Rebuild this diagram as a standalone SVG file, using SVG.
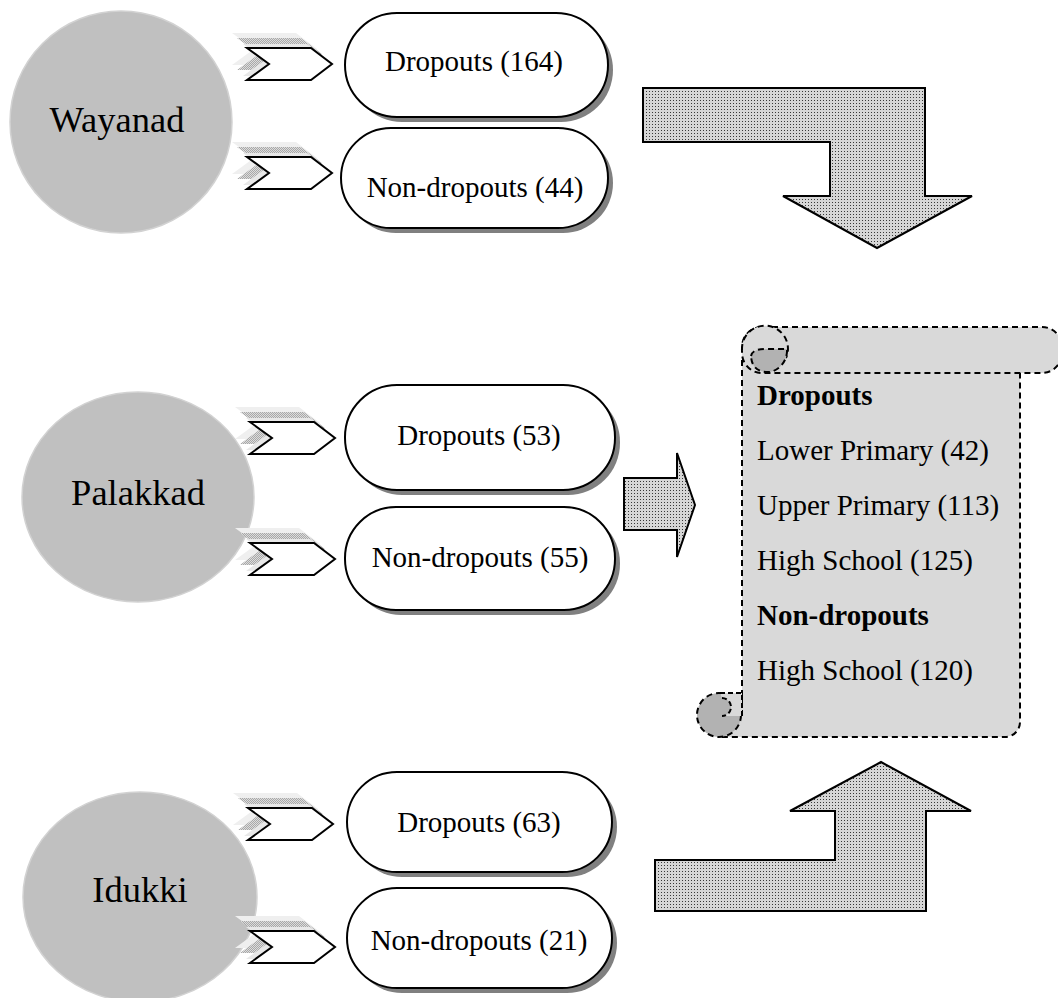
<svg xmlns="http://www.w3.org/2000/svg" width="1058" height="998" viewBox="0 0 1058 998">
  <style>
    .district { fill: #c0c0c0; stroke: #d2d2d2; stroke-width: 1.5; }
    .dname { font-family: "Liberation Serif", "Times New Roman", serif; font-size: 36.5px; fill: #000; text-anchor: middle; }
    .pill { fill: #fff; stroke: #000; stroke-width: 2; }
    .pill-shadow { fill: #808080; }
    .plabel { font-family: "Liberation Serif", "Times New Roman", serif; font-size: 29px; fill: #000; text-anchor: middle; }
    .chev { fill: #fff; stroke: #000; stroke-width: 2; stroke-linejoin: miter; }
    .chev-s1 { fill: #efefef; }
    .chev-s2 { fill: url(#dither); }
    .chev-s3 { fill: #e8e8e8; }
    .bigarrow { fill: url(#dots); stroke: #000; stroke-width: 2; stroke-linejoin: miter; }
    .scroll { fill: #d9d9d9; stroke: #000; stroke-width: 2; stroke-dasharray: 6 4; }
    .curl { fill: #b2b2b2; stroke: #000; stroke-width: 2; stroke-dasharray: 6 4; }
    .stext { font-family: "Liberation Serif", "Times New Roman", serif; font-size: 29px; fill: #000; }
    .bold { font-weight: bold; }
  </style>
  <defs>
    <!-- fine dot screen used by the block arrows -->
    <pattern id="dots" width="3" height="3" patternUnits="userSpaceOnUse">
      <rect width="3" height="3" fill="#d6d6d6"/>
      <rect x="1" y="1" width="1" height="1" fill="#383838"/>
    </pattern>
    <pattern id="dither" width="2" height="2" patternUnits="userSpaceOnUse">
      <rect width="2" height="2" fill="#dcdcdc"/>
      <rect width="1" height="1" fill="#a8a8a8"/>
      <rect x="1" y="1" width="1" height="1" fill="#a8a8a8"/>
    </pattern>
    <path id="chevShape" d="M0,0 L64,0 L85,16 L64,32 L0,32 L22,16 Z"/>
    <!-- chevron with a stepped soft shadow up and to the left -->
    <g id="chevron">
      <use href="#chevShape" class="chev-s1" transform="translate(-15,-15)"/>
      <use href="#chevShape" class="chev-s2" transform="translate(-10,-10)"/>
      <use href="#chevShape" class="chev-s3" transform="translate(-4,-4)"/>
      <use href="#chevShape" class="chev"/>
    </g>
  </defs>

  <rect width="1058" height="998" fill="#fff"/>

  <!-- District nodes -->
  <g id="wayanad">
    <ellipse class="district" cx="121" cy="122" rx="111" ry="111"/>
    <text class="dname" x="117" y="132">Wayanad</text>
  </g>
  <g id="palakkad">
    <ellipse class="district" cx="138" cy="497" rx="116" ry="105"/>
    <text class="dname" x="138" y="505">Palakkad</text>
  </g>
  <g id="idukki">
    <ellipse class="district" cx="140" cy="897" rx="117" ry="105"/>
    <text class="dname" x="140" y="902">Idukki</text>
  </g>

  <!-- Connectors: chevrons and block arrows -->
  <g id="connectors">
    <use href="#chevron" transform="translate(247,48)"/>
    <use href="#chevron" transform="translate(247,157)"/>
    <use href="#chevron" transform="translate(250,422)"/>
    <use href="#chevron" transform="translate(250,543)"/>
    <use href="#chevron" transform="translate(248,808)"/>
    <use href="#chevron" transform="translate(250,931)"/>

    <path class="bigarrow" d="M643,88 L925,88 L925,196 L972,196 L877,248 L783,196 L830,196 L830,142 L643,142 Z"/>
    <path class="bigarrow" d="M624,478 L677,478 L677,453 L695,505 L677,557 L677,530 L624,530 Z"/>
    <path class="bigarrow" d="M655,911 L655,860 L835,860 L835,811 L790,811 L881,762 L971,811 L926,811 L926,911 Z"/>
  </g>

  <!-- Outcome pills -->
  <g id="wayanad-dropouts">
    <rect class="pill-shadow" x="350" y="18" width="263" height="104" rx="52"/>
    <rect class="pill" x="345" y="13" width="263" height="104" rx="52"/>
    <text class="plabel" x="474" y="71">Dropouts (164)</text>
  </g>
  <g id="wayanad-nondropouts">
    <rect class="pill-shadow" x="346" y="133" width="267" height="100" rx="50"/>
    <rect class="pill" x="341" y="128" width="267" height="100" rx="50"/>
    <text class="plabel" x="475" y="197">Non-dropouts (44)</text>
  </g>
  <g id="palakkad-dropouts">
    <rect class="pill-shadow" x="350" y="390" width="270" height="105" rx="52"/>
    <rect class="pill" x="345" y="385" width="270" height="105" rx="52"/>
    <text class="plabel" x="479" y="445">Dropouts (53)</text>
  </g>
  <g id="palakkad-nondropouts">
    <rect class="pill-shadow" x="350" y="512" width="270" height="103" rx="51"/>
    <rect class="pill" x="345" y="507" width="270" height="103" rx="51"/>
    <text class="plabel" x="480" y="567">Non-dropouts (55)</text>
  </g>
  <g id="idukki-dropouts">
    <rect class="pill-shadow" x="352" y="777" width="265" height="100" rx="50"/>
    <rect class="pill" x="347" y="772" width="265" height="100" rx="50"/>
    <text class="plabel" x="479" y="832">Dropouts (63)</text>
  </g>
  <g id="idukki-nondropouts">
    <rect class="pill-shadow" x="352" y="893" width="265" height="100" rx="50"/>
    <rect class="pill" x="347" y="888" width="265" height="100" rx="50"/>
    <text class="plabel" x="479" y="950">Non-dropouts (21)</text>
  </g>

  <!-- Summary scroll -->
  <g id="summary">
    <path class="scroll" d="M742,360 L742,716 L719,737 L1005,737 A15,15 0 0 0 1020,722 L1020,360 Z"/>
    <rect class="scroll" x="742" y="327" width="320" height="46" rx="20"/>
    <path class="scroll" d="M742,350 A23,23 0 1 1 786,358"/>
    <path class="curl" d="M751,356 Q752,349 766,349 L787,349 A22,22 0 0 1 770,372 Q752,373 751,356 Z"/>
    <circle class="curl" cx="719" cy="715" r="22"/>
    <path d="M720,693 L742,693 L742,716 L722,716 A9,9 0 0 0 722,698 Z" fill="#d9d9d9"/>
    <path d="M720,693 L742,693 L742,716 M722,698 A9,9 0 0 1 722,716" fill="none" stroke="#000" stroke-width="2" stroke-dasharray="5 3"/>
    <text class="stext bold" x="757" y="405">Dropouts</text>
    <text class="stext" x="757" y="460">Lower Primary (42)</text>
    <text class="stext" x="757" y="515">Upper Primary (113)</text>
    <text class="stext" x="757" y="570">High School (125)</text>
    <text class="stext bold" x="757" y="625">Non-dropouts</text>
    <text class="stext" x="757" y="680">High School (120)</text>
  </g>
</svg>
